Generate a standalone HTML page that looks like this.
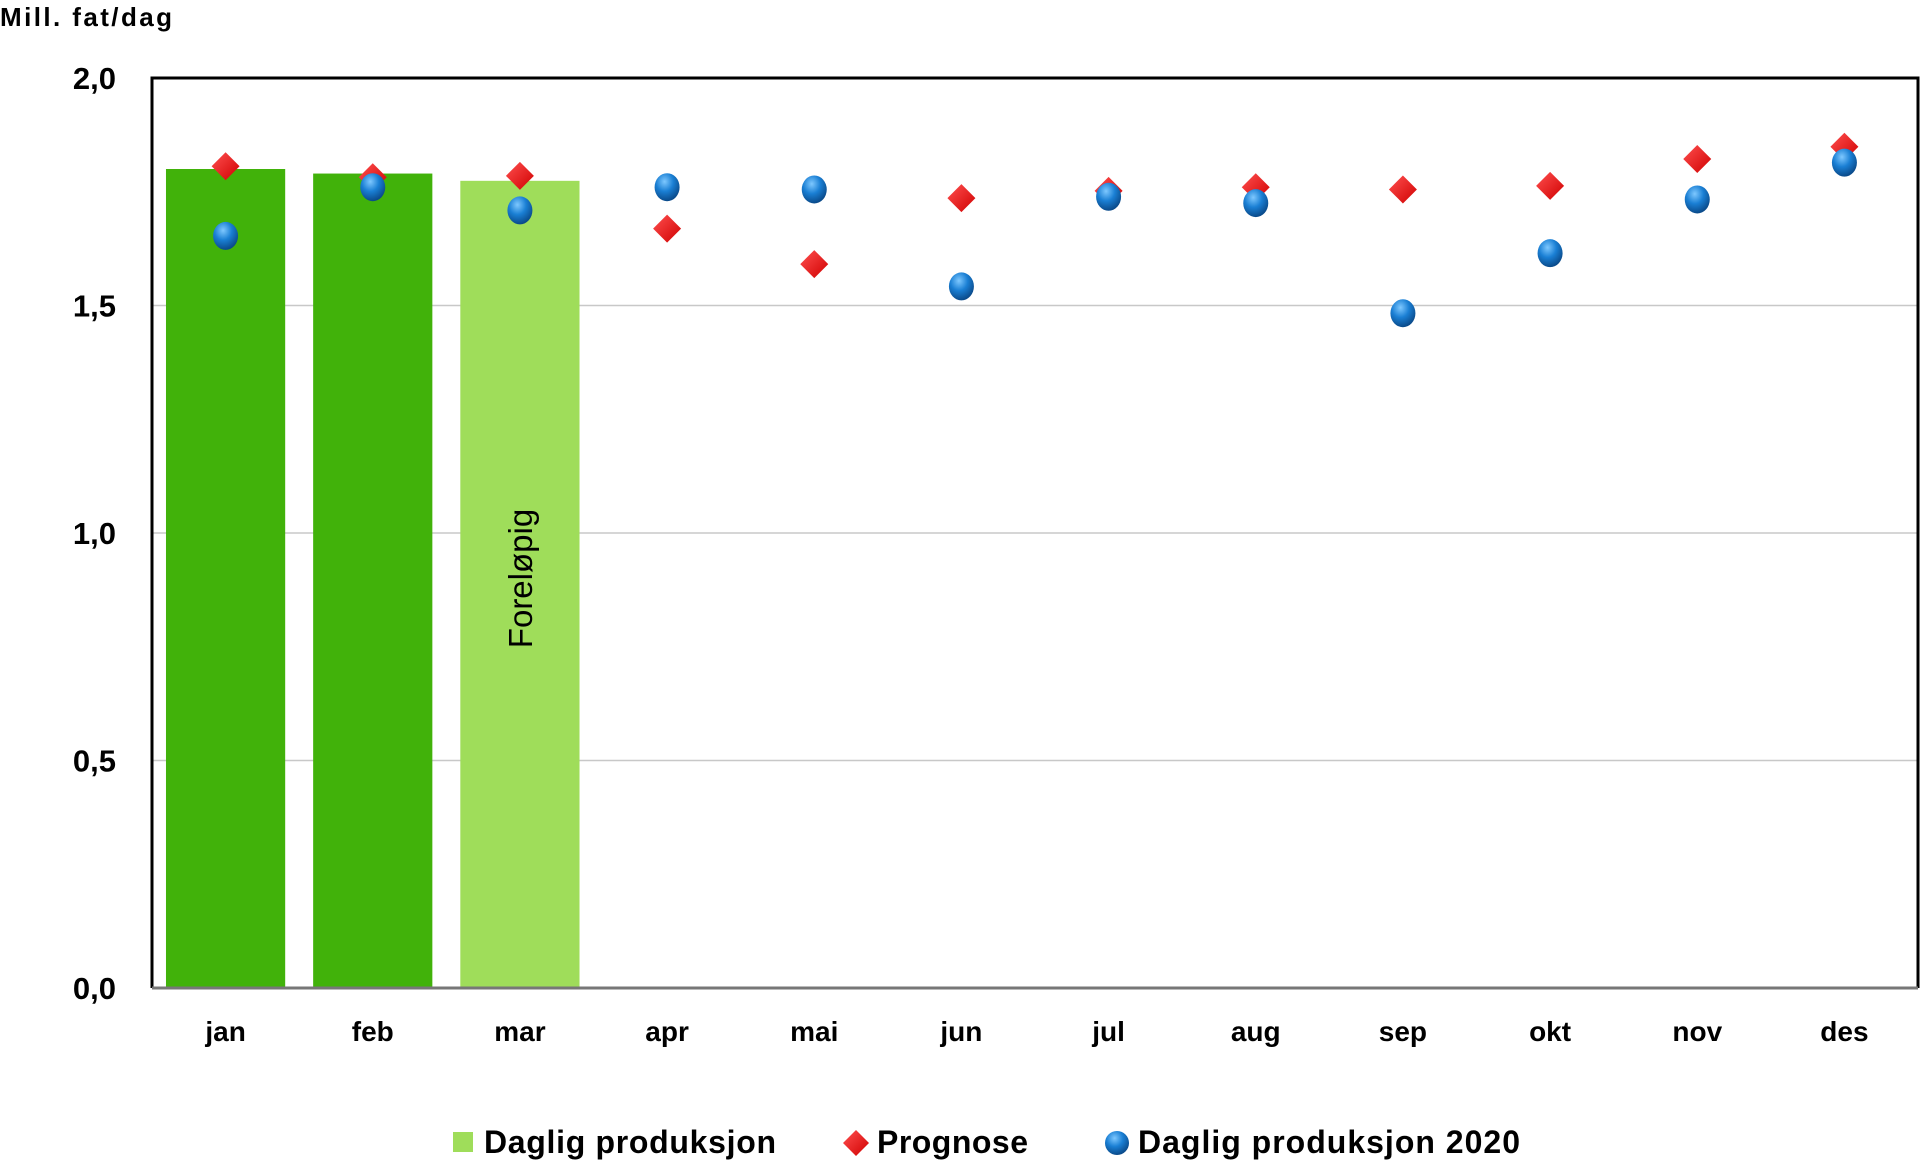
<!DOCTYPE html>
<html><head><meta charset="utf-8"><style>
html,body{margin:0;padding:0;background:#fff;}
svg{display:block;font-family:"Liberation Sans",sans-serif;}
</style></head><body>
<svg id="chart" width="1920" height="1176" viewBox="0 0 1920 1176" xmlns="http://www.w3.org/2000/svg">
<defs>
<radialGradient id="ball" cx="0.4" cy="0.3" r="0.7">
<stop offset="0" stop-color="#7ec8ff"/><stop offset="0.5" stop-color="#1a7fd4"/><stop offset="1" stop-color="#0a4a8a"/>
</radialGradient>
<linearGradient id="dia" x1="0" y1="0" x2="1" y2="1">
<stop offset="0" stop-color="#ff5050"/><stop offset="1" stop-color="#d00000"/>
</linearGradient>
</defs>
<text x="0" y="26" font-size="26" font-weight="bold" textLength="172">Mill. fat/dag</text>
<g id="grid"></g>
<g id="bars"></g>
<g id="frame"></g>
<g id="yticks"></g>
<g id="xticks"></g>
<g id="prog"></g>
<g id="prod"></g>
<g>
<rect x="453" y="1132" width="20" height="20" fill="#9fdd5a"/>
<text x="484" y="1153" font-size="32" font-weight="bold" textLength="292">Daglig produksjon</text>
<polygon points="856,1130 869,1143 856,1156 843,1143" fill="url(#dia)"/>
<text x="877" y="1153" font-size="32" font-weight="bold" textLength="151">Prognose</text>
<circle cx="1117" cy="1143" r="12" fill="url(#ball)"/>
<text x="1138" y="1153" font-size="32" font-weight="bold" textLength="382">Daglig produksjon 2020</text>
</g>
</svg>
<script>
const months = ["jan","feb","mar","apr","mai","jun","jul","aug","sep","okt","nov","des"];
const barValues = [1.80, 1.79, 1.774];
const barColors = ["#41b20a","#41b20a","#9fdd5a"];
const prognose = [1.806,1.782,1.785,1.669,1.591,1.736,1.752,1.760,1.755,1.763,1.822,1.849];
const prod2020 = [1.653,1.760,1.709,1.760,1.755,1.542,1.739,1.725,1.483,1.615,1.733,1.814];
const yTicks = [0,0.5,1.0,1.5,2.0];
const yTickLabels = ["0,0","0,5","1,0","1,5","2,0"];

const NS="http://www.w3.org/2000/svg";
const L=152,R=1918,T=78,B=988,YMAX=2;
const band=(R-L)/months.length;
const x=i=>L+band*(i+0.5);
const y=v=>B-(v/YMAX)*(B-T);
function mk(tag,attrs,parent){const e=document.createElementNS(NS,tag);for(const k in attrs)e.setAttribute(k,attrs[k]);document.getElementById(parent).appendChild(e);return e;}

yTicks.forEach((v,i)=>{
 if(v>0&&v<YMAX){const g=mk("line",{x1:L,x2:R,y1:y(v),y2:y(v),stroke:"#c8c8c8","stroke-width":1.5},"grid");
 
 }
 const t=mk("text",{x:116,y:y(v)+11,"font-size":31,"font-weight":"bold","text-anchor":"end"},"yticks");
 t.textContent=yTickLabels[i];
 
 
});
const bw=band*0.81;
barValues.forEach((v,i)=>{
 const r=mk("rect",{x:x(i)-bw/2,y:y(v),width:bw,height:B-y(v),fill:barColors[i]},"bars");
 
 
});
const fl=mk("text",{x:0,y:0,"font-size":33,transform:"translate("+(x(2)+12)+","+y(0.9)+") rotate(-90)","text-anchor":"middle"},"bars");
fl.textContent="Foreløpig";



const fr=mk("path",{d:`M${L},${B} L${L},${T} L${R},${T} L${R},${B}`,fill:"none",stroke:"#000","stroke-width":3},"frame");


const xa=mk("line",{x1:L,x2:R,y1:B,y2:B,stroke:"#777","stroke-width":3},"frame");



months.forEach((m,i)=>{
 const t=mk("text",{x:x(i),y:1041,"font-size":28,"font-weight":"bold","text-anchor":"middle"},"xticks");
 t.textContent=m;
 
 
});
prognose.forEach((v,i)=>{
 const cx=x(i),cy=y(v),s=14;
 const p=mk("polygon",{points:`${cx},${cy-s} ${cx+s},${cy} ${cx},${cy+s} ${cx-s},${cy}`,fill:"url(#dia)"},"prog");
 
 
});
prod2020.forEach((v,i)=>{
 const c=mk("ellipse",{cx:x(i),cy:y(v),rx:12.5,ry:14,fill:"url(#ball)"},"prod");
 
 
});
</script>
</body></html>
